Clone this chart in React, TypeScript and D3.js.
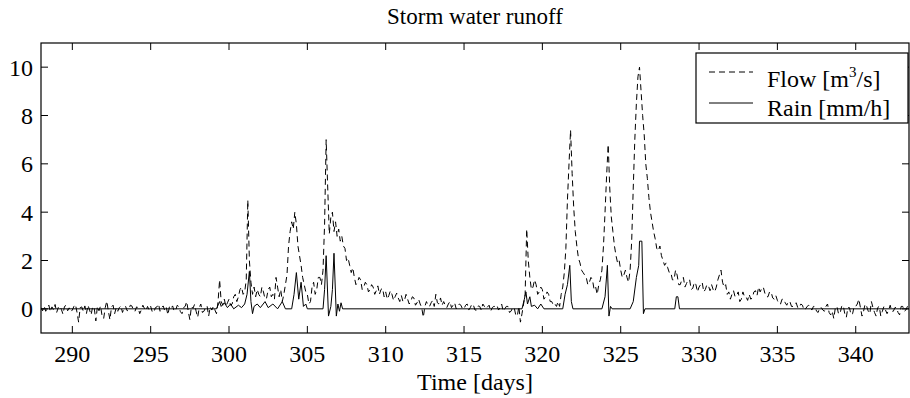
import React from 'react';
import * as d3 from 'd3';

// flow [m3/s], sampled every 0.1 day starting at day 288 (one row per day)
const flowStart = 288;
const flowStep = 0.1;
const flowValues = [
  0.05, -0.08, 0.12, -0.1, 0.02, 0.15, -0.12, 0.08, -0.05, 0.18,
  -0.15, 0.05, 0.12, -0.02, -0.22, 0.1, 0.14, -0.08, 0.04, -0.12,
  -0.05, 0.1, 0.18, -0.15, -0.55, 0.05, 0.08, -0.1, 0.12, -0.2,
  0.15, -0.05, -0.25, 0.1, 0.02, -0.5, 0.1, -0.08, 0.12, -0.3,
  -0.4, 0.05, 0.32, -0.1, -0.45, 0.08, 0.15, -0.2, 0.05, -0.1,
  0.05, 0.12, -0.15, 0.02, 0.1, -0.08, -0.05, 0.15, 0.12, -0.06,
  -0.1, 0.08, 0.05, -0.2, -0.05, 0.15, 0.02, -0.08, 0.1, -0.05,
  0.1, -0.12, -0.15, 0.05, 0.08, 0.2, -0.1, 0.05, 0.12, -0.08,
  0.05, -0.25, 0.1, 0.02, 0.12, -0.1, -0.05, 0.15, 0.08, -0.12,
  -0.2, 0.05, 0.1, 0.3, -0.1, -0.45, 0.1, 0.02, 0.18, -0.1,
  -0.35, 0.05, 0.2, -0.15, -0.1, 0.05, 0.12, -0.3, 0.08, -0.05,
  0.1, -0.05, -0.2, 0.3, 1.2, 0.3, 0.15, 0.4, 0.1, 0.25,
  0.4, 0.15, 0.2, 0.5, 0.6, 0.3, 0.5, 0.8, 0.9, 0.6,
  0.7, 1.2, 4.5, 2.0, 1.1, 0.6, 0.9, 0.5, 0.8, 0.6,
  0.5, 0.9, 0.7, 0.4, 0.45, 0.8, 0.9, 0.5, 0.6, 0.4,
  1.3, 0.9, 0.5, 0.8, 0.3, 0.6, 1.0, 1.4, 2.6, 3.2,
  3.6, 3.3, 4.0, 3.5, 2.6, 2.2, 1.8, 1.3, 1.0, 0.7,
  0.6, 0.2, 0.3, 0.9, 1.1, 0.6, 0.8, 1.3, 1.3, 1.0,
  1.6, 3.5, 7.0, 5.0, 3.1, 3.8, 4.0, 3.2, 3.6, 3.0,
  3.3, 2.8, 3.0, 2.6, 2.5, 2.0, 2.1, 1.8, 1.5, 1.7,
  1.3, 1.0, 1.1, 1.3, 1.2, 0.8, 0.9, 1.1, 1.0, 0.7,
  0.8, 1.0, 0.9, 0.6, 0.75, 0.95, 0.6, 0.8, 0.85, 0.5,
  0.7, 0.4, 0.55, 0.75, 0.6, 0.35, 0.5, 0.65, 0.45, 0.3,
  0.55, 0.3, 0.35, 0.6, 0.4, 0.2, 0.3, 0.5, 0.45, 0.15,
  0.25, 0.4, 0.2, 0.05, -0.35, 0.1, 0.3, 0.15, 0.1, 0.25,
  0.35, 0.1, 0.6, 0.25, 0.2, 0.45, 0.15, 0.3, 0.15, 0.05,
  0.2, 0.3, 0.05, 0.15, 0.25, 0.0, 0.1, 0.2, 0.15, 0.0,
  0.0, 0.15, 0.2, -0.05, 0.05, 0.2, 0.15, -0.05, -0.05, 0.12,
  0.1, -0.05, 0.2, 0.1, 0.0, 0.08, 0.15, -0.1, 0.05, 0.1,
  0.1, 0.15, -0.05, 0.05, 0.2, -0.1, 0.0, 0.1, 0.1, -0.15,
  -0.1, 0.05, 0.05, -0.25, -0.3, 0.1, -0.55, -0.2, 0.2, 0.6,
  3.3, 2.0, 1.3, 0.8, 0.9, 1.2, 1.0, 0.6, 0.7, 0.9,
  0.8, 0.4, 0.5, 0.7, 0.6, 0.3, 0.3, 0.15, 0.2, 0.1,
  0.3, 0.1, 0.6, 0.9, 1.5, 2.5, 4.5, 6.0, 7.4, 5.6,
  4.2, 3.2, 2.6, 2.1, 1.9, 1.6, 1.5, 1.4, 1.3, 1.0,
  1.1, 1.3, 1.2, 0.8, 0.9, 0.6, 1.0, 1.2, 1.6, 2.6,
  4.0, 5.5, 6.8, 5.0, 3.8, 3.2, 2.6, 2.2, 1.9, 2.0,
  1.6, 1.3, 1.4, 1.6, 1.3, 1.1, 1.6, 2.8, 5.0, 7.0,
  8.5, 9.6, 10.0, 9.0, 8.0, 7.2, 6.0, 5.4, 4.6, 4.0,
  3.6, 3.2, 2.9, 2.5, 2.4, 2.6, 2.2, 2.0, 1.8, 1.9,
  1.7, 1.5, 1.5, 1.2, 1.2, 1.6, 1.4, 1.0, 1.0, 1.2,
  1.3, 0.9, 1.05, 1.2, 1.2, 0.8, 0.85, 1.1, 1.0, 0.7,
  0.9, 1.0, 1.1, 0.7, 0.8, 1.0, 0.95, 0.75, 1.0, 0.8,
  0.7, 0.9, 1.2, 1.4, 1.6, 1.1, 0.9, 1.0, 0.6, 0.7,
  0.4, 0.6, 0.75, 0.5, 0.55, 0.7, 0.3, 0.4, 0.7, 0.5,
  0.5, 0.35, 0.6, 0.4, 0.45, 0.7, 0.75, 0.55, 0.9, 0.7,
  0.85, 0.9, 0.65, 0.5, 0.5, 0.7, 0.7, 0.45, 0.4, 0.55,
  0.35, 0.2, 0.2, 0.4, 0.4, 0.25, 0.15, 0.3, 0.3, 0.1,
  0.1, 0.2, 0.25, 0.05, 0.05, 0.2, 0.15, -0.05, 0.0, 0.1,
  0.15, 0.05, -0.05, 0.1, 0.1, -0.1, -0.15, 0.05, 0.05, -0.05,
  -0.1, 0.1, 0.2, -0.15, -0.25, -0.1, -0.4, 0.05, 0.1, -0.2,
  -0.2, 0.1, 0.15, -0.2, -0.35, 0.05, 0.05, -0.25, -0.2, 0.1,
  0.1, 0.2, 0.4, 0.05, -0.3, -0.1, 0.2, 0.1, -0.1, -0.2,
  0.3, 0.05, -0.15, -0.3, 0.05, 0.1, -0.3, -0.1, 0.1, -0.05,
  -0.2, -0.05, 0.15, -0.1, -0.1, 0.05, 0.05, -0.15, -0.25, 0.1,
  0.1, -0.1, -0.05, 0.1, 0.05,
];

// rain [mm/h] break points: day and value
const rainDays = [
  288, 299.2, 299.4, 299.5, 299.7, 299.9, 300.1, 300.3, 300.6, 300.8,
  301.0, 301.15, 301.3, 301.4, 301.5, 301.6, 301.8, 302.0, 302.3, 302.5,
  302.8, 303.1, 303.4, 303.6, 304.0, 304.15, 304.3, 304.45, 304.6, 304.75,
  304.9, 305.0, 306.0, 306.1, 306.2, 306.35, 306.5, 306.6, 306.7, 306.85,
  306.95, 307.05, 307.15, 307.25, 318.7, 318.85, 318.95, 319.05, 319.2, 319.3,
  319.5, 319.7, 319.9, 320.1, 321.3, 321.45, 321.6, 321.75, 321.85, 321.95,
  323.8, 324.0, 324.15, 324.25, 324.35, 324.45, 325.6, 325.8, 326.0, 326.15,
  326.2, 326.35, 326.45, 326.55, 328.45, 328.55, 328.65, 328.75, 343.4,
];
const rainValues = [
  0, 0, 0.3, 0.1, 0.25, 0.05, 0.2, 0.0, 0.15, 0.05,
  0.2, 0.6, 1.55, 0.3, -0.2, 0.1, 0.2, 0.05, 0.3, 0.05,
  0.2, 0.0, 0.3, 0.0, 0.0, 0.6, 1.5, 0.4, 1.1, 0.1,
  0.2, 0.0, 0.0, 0.8, 2.2, -0.3, 0.1, 0.8, 2.3, -0.3,
  0.2, -0.1, 0.25, 0.0, 0.0, 0.4, 0.7, 0.2, 0.5, 0.1,
  0.15, 0.0, 0.2, 0.0, 0.0, 0.6, 1.0, 1.8, 0.3, 0.0,
  0.0, 0.5, 1.8, -0.3, 0.1, 0.0, 0.0, 0.3, 1.3, 1.8,
  2.8, 2.8, -0.2, 0.0, 0.0, 0.5, 0.5, 0.0, 0,
];

const xTicks = [290, 295, 300, 305, 310, 315, 320, 325, 330, 335, 340];
const yTicks = [0, 2, 4, 6, 8, 10];

const W = 910;
const H = 398;
const left = 41;
const right = 909;
const top = 43;
const bottom = 333;
const tickLen = 7;
const font = '"Liberation Serif", "Times New Roman", serif';

export default function App() {
  const x = d3.scaleLinear().domain([288, 343.4]).range([left, right]);
  const y = d3.scaleLinear().domain([-1, 11]).range([bottom, top]);

  const flow = flowValues.map((v, i) => ({ t: flowStart + i * flowStep, v }));
  const rain = rainDays.map((t, i) => ({ t, v: rainValues[i] }));

  const line = d3
    .line<{ t: number; v: number }>()
    .x((d) => x(d.t))
    .y((d) => y(d.v));

  return (
    <div style={{ position: 'fixed', left: 0, top: 0 }}>
      <svg width={W} height={H} style={{ display: 'block', background: '#fff' }} fontFamily={font}>
        <defs>
          <clipPath id="plot">
            <rect x={left} y={top} width={right - left} height={bottom - top} />
          </clipPath>
        </defs>

        <text x={(left + right) / 2} y={24} textAnchor="middle" fontSize={23}>
          Storm water runoff
        </text>

        <g clipPath="url(#plot)" fill="none" stroke="#000" strokeWidth={1}>
          <path d={line(flow) || ''} strokeDasharray="6,4" />
          <path d={line(rain) || ''} />
        </g>

        {/* ticks, MATLAB style: inward on all four sides */}
        <g stroke="#000" strokeWidth={1}>
          {xTicks.map((t) => (
            <g key={'xt' + t}>
              <line x1={x(t)} x2={x(t)} y1={bottom} y2={bottom - tickLen} />
              <line x1={x(t)} x2={x(t)} y1={top} y2={top + tickLen} />
            </g>
          ))}
          {yTicks.map((t) => (
            <g key={'yt' + t}>
              <line x1={left} x2={left + tickLen} y1={y(t)} y2={y(t)} />
              <line x1={right} x2={right - tickLen} y1={y(t)} y2={y(t)} />
            </g>
          ))}
        </g>
        <rect x={left} y={top} width={right - left} height={bottom - top} fill="none" stroke="#000" strokeWidth={1.2} />

        <g fontSize={24}>
          {xTicks.map((t) => (
            <text key={'xl' + t} x={x(t)} y={362} textAnchor="middle">
              {t}
            </text>
          ))}
          {yTicks.map((t) => (
            <text key={'yl' + t} x={33} y={y(t)} dy="0.35em" textAnchor="end">
              {t}
            </text>
          ))}
          <text x={(left + right) / 2} y={390} textAnchor="middle">
            Time [days]
          </text>
        </g>

        {/* legend */}
        <g>
          <rect x={696} y={53} width={212} height={70} fill="#fff" stroke="#000" strokeWidth={1.2} />
          <line x1={709} x2={753} y1={72} y2={72} stroke="#000" strokeDasharray="6,4" />
          <line x1={709} x2={753} y1={103} y2={103} stroke="#000" />
          <text x={767} y={87} fontSize={24}>
            Flow [m<tspan fontSize={15} dy={-10}>3</tspan>
            <tspan dy={10}>/s]</tspan>
          </text>
          <text x={767} y={116} fontSize={24}>
            Rain [mm/h]
          </text>
        </g>
      </svg>
    </div>
  );
}
